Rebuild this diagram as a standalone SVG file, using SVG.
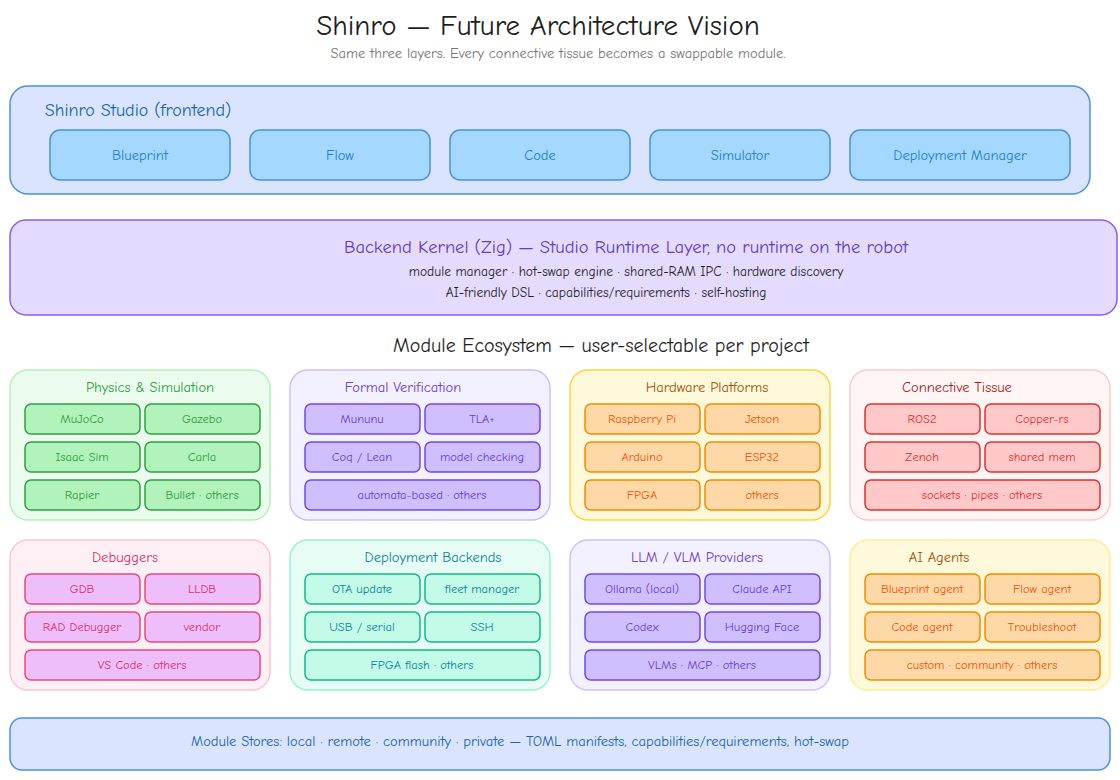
<svg xmlns="http://www.w3.org/2000/svg" width="1120" height="780" viewBox="0 0 1120 780">
<style>
text{font-family:"Comic Neue","Liberation Sans",sans-serif;text-anchor:middle;dominant-baseline:central}
.t{font-size:29px;fill:#1e1e1e}
.st{font-size:14.5px;fill:#757575}
.c{font-size:12.5px}
.gt{font-size:14.5px}
.g{fill:#ebfbee;stroke:#b2f2bb}.gc{fill:#b2f2bb;stroke:#2f9e44}.gx{fill:#2f9e44}
.p{fill:#f3f0ff;stroke:#d0bfff}.pc{fill:#d0bfff;stroke:#7048e8}.px{fill:#6741d9}
.y{fill:#fff9db;stroke:#ffd43b}.yc{fill:#ffd8a8;stroke:#f08c00}.yx{fill:#e8590c}
.r{fill:#fff5f5;stroke:#ffc9c9}.rc{fill:#ffc9c9;stroke:#e03131}.rx{fill:#e03131}
.k{fill:#fff0f6;stroke:#fcc2d7}.kc{fill:#eebefa;stroke:#e64980}.kx{fill:#d6336c}
.q{fill:#e6fcf5;stroke:#96f2d7}.qc{fill:#c3fae8;stroke:#12b886}.qx{fill:#0c8599}
rect{stroke-width:1.5}
</style>
<text class="t" x="538" y="25">Shinro — Future Architecture Vision</text>
<text class="st" x="558" y="53">Same three layers. Every connective tissue becomes a swappable module.</text>

<g id="studio">
<rect x="10" y="86" width="1080" height="108" rx="18" fill="#dbe4ff" stroke="#4a90e2" stroke-width="2"/>
<text x="138" y="110" style="font-size:18px;fill:#1864ab">Shinro Studio (frontend)</text>
<g fill="#a5d8ff" stroke="#4a90e2" stroke-width="2">
<rect x="50" y="130" width="180" height="50" rx="10"/><rect x="250" y="130" width="180" height="50" rx="10"/><rect x="450" y="130" width="180" height="50" rx="10"/><rect x="650" y="130" width="180" height="50" rx="10"/><rect x="850" y="130" width="220" height="50" rx="10"/>
</g>
<g style="font-size:14.5px;fill:#1c7ed6"><text x="140" y="155">Blueprint</text><text x="340" y="155">Flow</text><text x="540" y="155">Code</text><text x="740" y="155">Simulator</text><text x="960" y="155">Deployment Manager</text></g>
</g>

<g id="kernel">
<rect x="10" y="220" width="1107" height="95" rx="16" fill="#e5dbff" stroke="#845ef7" stroke-width="2"/>
<text x="626" y="247" style="font-size:18.5px;fill:#5f3dc4">Backend Kernel (Zig) — Studio Runtime Layer, no runtime on the robot</text>
<text x="626" y="271" style="font-size:13.5px;fill:#1e1e1e">module manager · hot-swap engine · shared-RAM IPC · hardware discovery</text>
<text x="606" y="292" style="font-size:13.5px;fill:#1e1e1e">AI-friendly DSL · capabilities/requirements · self-hosting</text>
</g>

<text x="601" y="345" style="font-size:20px;fill:#1e1e1e">Module Ecosystem — user-selectable per project</text>

<g id="physics">
<rect class="g" x="10" y="370" width="260" height="150" rx="18"/>
<text class="gt gx" x="150" y="387">Physics &amp; Simulation</text>
<rect class="gc" x="25" y="404" width="115" height="30" rx="6"/><rect class="gc" x="145" y="404" width="115" height="30" rx="6"/>
<rect class="gc" x="25" y="442" width="115" height="30" rx="6"/><rect class="gc" x="145" y="442" width="115" height="30" rx="6"/>
<rect class="gc" x="25" y="480" width="115" height="30" rx="6"/><rect class="gc" x="145" y="480" width="115" height="30" rx="6"/>
<g class="gx"><text class="c" x="82" y="419">MuJoCo</text><text class="c" x="202" y="419">Gazebo</text><text class="c" x="82" y="457">Isaac Sim</text><text class="c" x="202" y="457">Carla</text><text class="c" x="82" y="495">Rapier</text><text class="c" x="202" y="495">Bullet · others</text></g>
</g>

<g id="formal">
<rect class="p" x="290" y="370" width="260" height="150" rx="18"/>
<text class="gt px" x="403" y="387">Formal Verification</text>
<rect class="pc" x="305" y="404" width="115" height="30" rx="6"/><rect class="pc" x="425" y="404" width="115" height="30" rx="6"/>
<rect class="pc" x="305" y="442" width="115" height="30" rx="6"/><rect class="pc" x="425" y="442" width="115" height="30" rx="6"/>
<rect class="pc" x="305" y="480" width="235" height="30" rx="6"/>
<g class="px"><text class="c" x="362" y="419">Mununu</text><text class="c" x="482" y="419">TLA+</text><text class="c" x="362" y="457">Coq / Lean</text><text class="c" x="482" y="457">model checking</text><text class="c" x="422" y="495">automata-based · others</text></g>
</g>

<g id="hardware">
<rect class="y" x="570" y="370" width="260" height="150" rx="18"/>
<text class="gt" x="707" y="387" fill="#a0520a">Hardware Platforms</text>
<rect class="yc" x="585" y="404" width="115" height="30" rx="6"/><rect class="yc" x="705" y="404" width="115" height="30" rx="6"/>
<rect class="yc" x="585" y="442" width="115" height="30" rx="6"/><rect class="yc" x="705" y="442" width="115" height="30" rx="6"/>
<rect class="yc" x="585" y="480" width="115" height="30" rx="6"/><rect class="yc" x="705" y="480" width="115" height="30" rx="6"/>
<g class="yx"><text class="c" x="642" y="419">Raspberry Pi</text><text class="c" x="762" y="419">Jetson</text><text class="c" x="642" y="457">Arduino</text><text class="c" x="762" y="457">ESP32</text><text class="c" x="642" y="495">FPGA</text><text class="c" x="762" y="495">others</text></g>
</g>

<g id="connective">
<rect class="r" x="850" y="370" width="260" height="150" rx="18"/>
<text class="gt" x="957" y="387" fill="#a61e1e">Connective Tissue</text>
<rect class="rc" x="865" y="404" width="115" height="30" rx="6"/><rect class="rc" x="985" y="404" width="115" height="30" rx="6"/>
<rect class="rc" x="865" y="442" width="115" height="30" rx="6"/><rect class="rc" x="985" y="442" width="115" height="30" rx="6"/>
<rect class="rc" x="865" y="480" width="235" height="30" rx="6"/>
<g class="rx"><text class="c" x="922" y="419">ROS2</text><text class="c" x="1042" y="419">Copper-rs</text><text class="c" x="922" y="457">Zenoh</text><text class="c" x="1042" y="457">shared mem</text><text class="c" x="982" y="495">sockets · pipes · others</text></g>
</g>

<g id="debuggers">
<rect class="k" x="10" y="540" width="260" height="150" rx="18"/>
<text class="gt kx" x="125" y="557">Debuggers</text>
<rect class="kc" x="25" y="574" width="115" height="30" rx="6"/><rect class="kc" x="145" y="574" width="115" height="30" rx="6"/>
<rect class="kc" x="25" y="612" width="115" height="30" rx="6"/><rect class="kc" x="145" y="612" width="115" height="30" rx="6"/>
<rect class="kc" x="25" y="650" width="235" height="30" rx="6"/>
<g class="kx"><text class="c" x="82" y="589">GDB</text><text class="c" x="202" y="589">LLDB</text><text class="c" x="82" y="627">RAD Debugger</text><text class="c" x="202" y="627">vendor</text><text class="c" x="142" y="665">VS Code · others</text></g>
</g>

<g id="deploy">
<rect class="q" x="290" y="540" width="260" height="150" rx="18"/>
<text class="gt qx" x="433" y="557">Deployment Backends</text>
<rect class="qc" x="305" y="574" width="115" height="30" rx="6"/><rect class="qc" x="425" y="574" width="115" height="30" rx="6"/>
<rect class="qc" x="305" y="612" width="115" height="30" rx="6"/><rect class="qc" x="425" y="612" width="115" height="30" rx="6"/>
<rect class="qc" x="305" y="650" width="235" height="30" rx="6"/>
<g class="qx"><text class="c" x="362" y="589">OTA update</text><text class="c" x="482" y="589">fleet manager</text><text class="c" x="362" y="627">USB / serial</text><text class="c" x="482" y="627">SSH</text><text class="c" x="422" y="665">FPGA flash · others</text></g>
</g>

<g id="llm">
<rect class="p" x="570" y="540" width="260" height="150" rx="18"/>
<text class="gt px" x="697" y="557">LLM / VLM Providers</text>
<rect class="pc" x="585" y="574" width="115" height="30" rx="6"/><rect class="pc" x="705" y="574" width="115" height="30" rx="6"/>
<rect class="pc" x="585" y="612" width="115" height="30" rx="6"/><rect class="pc" x="705" y="612" width="115" height="30" rx="6"/>
<rect class="pc" x="585" y="650" width="235" height="30" rx="6"/>
<g class="px"><text class="c" x="642" y="589">Ollama (local)</text><text class="c" x="762" y="589">Claude API</text><text class="c" x="642" y="627">Codex</text><text class="c" x="762" y="627">Hugging Face</text><text class="c" x="702" y="665">VLMs · MCP · others</text></g>
</g>

<g id="agents">
<rect class="y" x="850" y="540" width="260" height="150" rx="18" style="stroke:#ffec99"/>
<text class="gt" x="939" y="557" fill="#a0520a">AI Agents</text>
<rect class="yc" x="865" y="574" width="115" height="30" rx="6"/><rect class="yc" x="985" y="574" width="115" height="30" rx="6"/>
<rect class="yc" x="865" y="612" width="115" height="30" rx="6"/><rect class="yc" x="985" y="612" width="115" height="30" rx="6"/>
<rect class="yc" x="865" y="650" width="235" height="30" rx="6"/>
<g class="yx"><text class="c" x="922" y="589">Blueprint agent</text><text class="c" x="1042" y="589">Flow agent</text><text class="c" x="922" y="627">Code agent</text><text class="c" x="1042" y="627">Troubleshoot</text><text class="c" x="982" y="665">custom · community · others</text></g>
</g>

<g id="stores">
<rect x="10" y="718" width="1100" height="52" rx="12" fill="#dbe4ff" stroke="#4a90e2" stroke-width="2"/>
<text x="520" y="741" style="font-size:14.5px;fill:#1864ab">Module Stores: local · remote · community · private — TOML manifests, capabilities/requirements, hot-swap</text>
</g>
<g id="connectors"/>
</svg>
